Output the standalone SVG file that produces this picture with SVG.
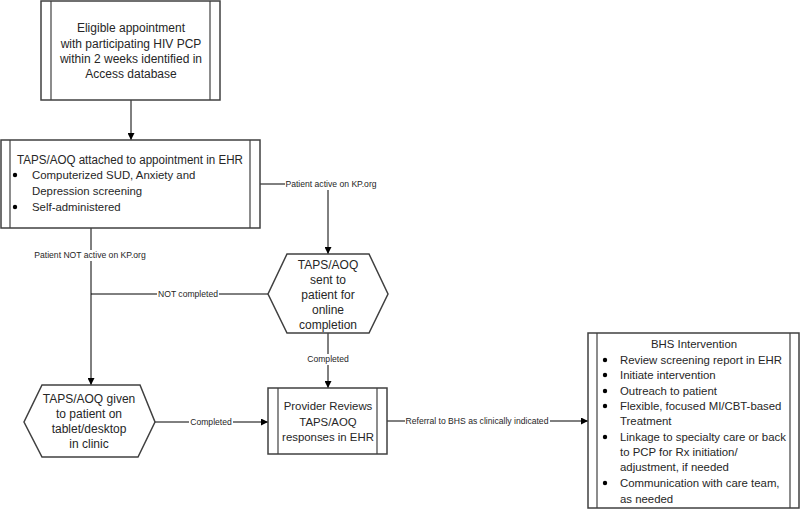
<svg xmlns="http://www.w3.org/2000/svg" width="800" height="510" viewBox="0 0 800 510">
<style>
.box{fill:#fff;stroke:#404040;stroke-width:1.5}
.inner{stroke:#404040;stroke-width:1.2;fill:none}
.t{font-family:"Liberation Sans",Arial,sans-serif;font-size:12px;fill:#262626}
.s{font-size:11.4px}
.c{text-anchor:middle}
.lbl{font-family:"Liberation Sans",Arial,sans-serif;font-size:8.6px;fill:#262626;text-anchor:middle}
.conn{stroke:#000;stroke-width:1;fill:none}
.lbg{fill:#fff}
.dot{fill:#000}
</style>
<defs>
<marker id="arr" viewBox="0 0 10 10" refX="10" refY="5" markerWidth="7" markerHeight="7" markerUnits="userSpaceOnUse" orient="auto">
<path d="M0,0 L10,5 L0,10 z" fill="#000"/>
</marker>
</defs>
<rect width="800" height="510" fill="#fff"/>

<g id="connectors">
<path class="conn" d="M131,100 V140" marker-end="url(#arr)"/>
<path class="conn" d="M260,184 H328 V254" marker-end="url(#arr)"/>
<path class="conn" d="M91,228 V385" marker-end="url(#arr)"/>
<path class="conn" d="M268,294 H91"/>
<path class="conn" d="M328,333 V388" marker-end="url(#arr)"/>
<path class="conn" d="M155,422 H268" marker-end="url(#arr)"/>
<path class="conn" d="M387,421 H588" marker-end="url(#arr)"/>
<rect class="lbg" x="285" y="179" width="93" height="11"/>
<text class="lbl" x="331" y="187">Patient active on KP.org</text>
<rect class="lbg" x="33" y="250" width="114" height="11"/>
<text class="lbl" x="90" y="258">Patient NOT active on KP.org</text>
<rect class="lbg" x="157" y="289" width="62" height="11"/>
<text class="lbl" x="188" y="297">NOT completed</text>
<rect class="lbg" x="306" y="354" width="44" height="11"/>
<text class="lbl" x="328" y="362">Completed</text>
<rect class="lbg" x="189" y="417" width="44" height="11"/>
<text class="lbl" x="211" y="425">Completed</text>
<rect class="lbg" x="405" y="416" width="145" height="11"/>
<text class="lbl" x="477" y="424">Referral to BHS as clinically indicated</text>
</g>

<g id="n1">
<rect class="box" x="41" y="1" width="179" height="99"/>
<line class="inner" x1="51" y1="1" x2="51" y2="100"/>
<line class="inner" x1="210" y1="1" x2="210" y2="100"/>
<text class="t c" x="131" y="32">Eligible appointment</text>
<text class="t c" x="131" y="48">with participating HIV PCP</text>
<text class="t c" x="131" y="63">within 2 weeks identified in</text>
<text class="t c" x="131" y="78">Access database</text>
</g>

<g id="n2">
<rect class="box" x="1" y="140" width="259" height="88"/>
<line class="inner" x1="10" y1="140" x2="10" y2="228"/>
<line class="inner" x1="250" y1="140" x2="250" y2="228"/>
<text class="t" x="17" y="164" textLength="226" lengthAdjust="spacingAndGlyphs">TAPS/AOQ attached to appointment in EHR</text>
<circle class="dot" cx="15" cy="175" r="2.2"/>
<text class="t s" x="32" y="179">Computerized SUD, Anxiety and</text>
<text class="t s" x="32" y="195">Depression screening</text>
<circle class="dot" cx="15" cy="207" r="2.2"/>
<text class="t s" x="32" y="211">Self-administered</text>
</g>

<g id="n3">
<polygon class="box" points="287,254 369,254 388,294 369,333 287,333 268,294"/>
<text class="t c" x="328" y="269">TAPS/AOQ</text>
<text class="t c" x="328" y="284">sent to</text>
<text class="t c" x="328" y="299">patient for</text>
<text class="t c" x="328" y="314">online</text>
<text class="t c" x="328" y="329">completion</text>
</g>

<g id="n4">
<polygon class="box" points="42,385 140,385 155,422 138,457 42,457 24,422"/>
<text class="t c" x="89" y="403">TAPS/AOQ given</text>
<text class="t c" x="89" y="418">to patient on</text>
<text class="t c" x="89" y="433">tablet/desktop</text>
<text class="t c" x="89" y="448">in clinic</text>
</g>

<g id="n5">
<rect class="box" x="268" y="388" width="119" height="66"/>
<line class="inner" x1="278" y1="388" x2="278" y2="454"/>
<line class="inner" x1="377" y1="388" x2="377" y2="454"/>
<text class="t s c" x="328" y="410">Provider Reviews</text>
<text class="t s c" x="328" y="426">TAPS/AOQ</text>
<text class="t s c" x="328" y="441">responses in EHR</text>
</g>

<g id="n6">
<rect class="box" x="588" y="333" width="211" height="175"/>
<line class="inner" x1="597" y1="333" x2="597" y2="508"/>
<line class="inner" x1="790" y1="333" x2="790" y2="508"/>
<text class="t s c" x="694" y="348">BHS Intervention</text>
<circle class="dot" cx="605" cy="360" r="2.2"/>
<text class="t s" x="620" y="364">Review screening report in EHR</text>
<circle class="dot" cx="605" cy="375" r="2.2"/>
<text class="t s" x="620" y="379">Initiate intervention</text>
<circle class="dot" cx="605" cy="391" r="2.2"/>
<text class="t s" x="620" y="395">Outreach to patient</text>
<circle class="dot" cx="605" cy="406" r="2.2"/>
<text class="t s" x="620" y="410">Flexible, focused MI/CBT-based</text>
<text class="t s" x="620" y="425">Treatment</text>
<circle class="dot" cx="605" cy="437" r="2.2"/>
<text class="t s" x="620" y="441">Linkage to specialty care or back</text>
<text class="t s" x="620" y="456">to PCP for Rx initiation/</text>
<text class="t s" x="620" y="471">adjustment, if needed</text>
<circle class="dot" cx="605" cy="483" r="2.2"/>
<text class="t s" x="620" y="487">Communication with care team,</text>
<text class="t s" x="620" y="503">as needed</text>
</g>
</svg>
